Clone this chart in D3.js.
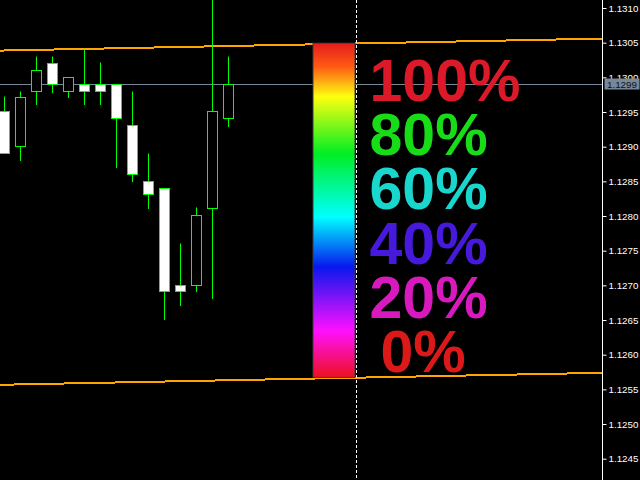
<!DOCTYPE html>
<html><head><meta charset="utf-8">
<script src="https://cdn.jsdelivr.net/npm/d3@7"></script>
<style>html,body{margin:0;padding:0;background:#000;overflow:hidden}</style>
</head><body>
<svg id="chart" width="640" height="480"></svg>
<script>
// ---- data ----
const barIndex = [0,1,2,3,4,5,6,7,8,9,10,11,12,13,14];
const opens  = [1.12950,1.12900,1.12979,1.13019,1.12979,1.12989,1.12989,1.12989,1.12930,1.12849,1.12839,1.12699,1.12699,1.12810,1.12940];
const highs  = [1.12971,1.12979,1.13030,1.13030,1.12999,1.13039,1.13020,1.12989,1.12979,1.12890,1.12839,1.12760,1.12811,1.13130,1.13030];
const lows   = [1.12889,1.12879,1.12960,1.12978,1.12970,1.12960,1.12960,1.12869,1.12849,1.12810,1.12650,1.12670,1.12690,1.12680,1.12929];
const closes = [1.12889,1.12970,1.13009,1.12989,1.12999,1.12979,1.12979,1.12940,1.12859,1.12830,1.12690,1.12690,1.12800,1.12950,1.12989];
const priceTicks = [1.1245,1.1250,1.1255,1.1260,1.1265,1.1270,1.1275,1.1280,1.1285,1.1290,1.1295,1.1300,1.1305,1.1310];
const channelBars   = [0, 37];
const channelTop    = [1.13038, 1.13055];
const channelBottom = [1.12556, 1.12573];
const markerBar = 22;
const levelLabels = ["100%","80%","60%","40%","20%","0%"];
const levelValues = [100,80,60,40,20,0];
const levelColors = ["#dc1928","#19dc19","#19d7cd","#4619dc","#d719be","#dc1919"];
const gradientOffsets = [0,0.07,0.16,0.33,0.52,0.67,0.86,1];
const gradientColors  = ["#e41c1c","#ff5a14","#ffff10","#00ee22","#00ffff","#0818ee","#ff10ff","#ee1020"];

// ---- layout ----
const W = 640, H = 480, plotRight = 602;
const svg = d3.select("#chart");
svg.append("rect").attr("width",W).attr("height",H).attr("fill","#000");

const x = d3.scaleLinear().domain([0,1]).range([4.5,20.5]);
const y = d3.scaleLinear().domain([1.1245,1.1310]).range([458.2,7.5]);
const py = v => Math.floor(y(v)) + 0.5;

const plot = svg.append("g");
svg.append("clipPath").attr("id","pc").append("rect").attr("x",0).attr("y",0).attr("width",plotRight).attr("height",H);
plot.attr("clip-path","url(#pc)");

// current price line
const cp = closes[closes.length-1];
plot.append("line").attr("x1",0).attr("x2",plotRight).attr("y1",py(cp)).attr("y2",py(cp))
  .attr("stroke","#778899").attr("stroke-width",1);

// channel lines
function chanPrice(arr, b){ return arr[0] + (b-channelBars[0])*(arr[1]-arr[0])/(channelBars[1]-channelBars[0]); }
const bL = x.invert(0), bR = x.invert(plotRight);
[channelTop, channelBottom].forEach(arr => {
  plot.append("path")
    .attr("d", d3.line().x(b=>x(b)).y(b=>y(chanPrice(arr,b)))([bL,bR]))
    .attr("stroke","#ffa500").attr("stroke-width",2).attr("fill","none")
    .attr("shape-rendering","crispEdges");
});

// candles
const candles = barIndex.map(i => ({i, o:opens[i], h:highs[i], l:lows[i], c:closes[i]}));
const cg = plot.append("g");
cg.selectAll("line.wick").data(candles).join("line").attr("class","wick")
  .attr("x1",d=>x(d.i)).attr("x2",d=>x(d.i))
  .attr("y1",d=>py(d.h)).attr("y2",d=>py(d.l)+0.5)
  .attr("stroke","#00ff00").attr("stroke-width",1);
cg.selectAll("rect.body").data(candles).join("rect").attr("class","body")
  .attr("x",d=>x(d.i)-5).attr("width",10)
  .attr("y",d=>py(Math.max(d.o,d.c)))
  .attr("height",d=>Math.max(1, py(Math.min(d.o,d.c)) - py(Math.max(d.o,d.c))))
  .attr("fill",d=>d.c<d.o ? "#ffffff" : "#000000")
  .attr("stroke","#00ff00").attr("stroke-width",1);

// gradient bar
const defs = svg.append("defs");
const grad = defs.append("linearGradient").attr("id","hue").attr("x1",0).attr("y1",0).attr("x2",0).attr("y2",1);
gradientOffsets.forEach((o,k)=>grad.append("stop").attr("offset",o).attr("stop-color",gradientColors[k]));
const mx = x(markerBar);
const gTop = y(chanPrice(channelTop, markerBar)) - 0.3;
const gBot = y(chanPrice(channelBottom, markerBar)) - 0.3;
plot.append("rect").attr("x",mx-43.5).attr("width",42).attr("y",gTop).attr("height",gBot-gTop)
  .attr("fill","url(#hue)").attr("stroke","#3a3a3a").attr("stroke-width",1);

// dashed marker line
plot.append("line").attr("x1",mx).attr("x2",mx).attr("y1",0).attr("y2",H)
  .attr("stroke","#ffffff").attr("stroke-width",1).attr("stroke-dasharray","3,2");

// level labels
const ly = d3.scaleLinear().domain([0,100]).range([372,101]);
plot.selectAll("text.lvl").data(levelLabels).join("text").attr("class","lvl")
  .attr("x",(d,k)=> mx + (levelValues[k]===0 ? 24 : 13))
  .attr("y",(d,k)=>ly(levelValues[k]))
  .attr("fill",(d,k)=>levelColors[k])
  .attr("font-family","'Liberation Sans', Arial, sans-serif")
  .attr("font-weight","bold").attr("font-size",59)
  .text(d=>d);

// price axis
const axis = d3.axisRight(y).tickValues(priceTicks).tickSize(4).tickPadding(2).tickFormat(d3.format(".4f"));
const ag = svg.append("g").attr("transform",`translate(${plotRight+0.5},0.5)`).call(axis);
ag.select(".domain").remove();
ag.selectAll(".tick line").attr("stroke","#fff");
ag.selectAll(".tick text").attr("fill","#fff").attr("font-family","'Liberation Sans', Arial, sans-serif").attr("font-size",9.8);
svg.append("line").attr("x1",plotRight+0.5).attr("x2",plotRight+0.5).attr("y1",0).attr("y2",H)
  .attr("stroke","#fff").attr("stroke-width",1);

// current price label
const cpy = y(cp);
svg.append("rect").attr("x",604.5).attr("y",Math.round(cpy)-5.5).attr("width",35).attr("height",11).attr("fill","#778899");
svg.append("text").attr("x",607).attr("y",cpy).attr("dy","0.34em").attr("fill","#111")
  .attr("font-family","'Liberation Sans', Arial, sans-serif").attr("font-size",9.8)
  .text(d3.format(".4f")(cp));
</script>
</body></html>
